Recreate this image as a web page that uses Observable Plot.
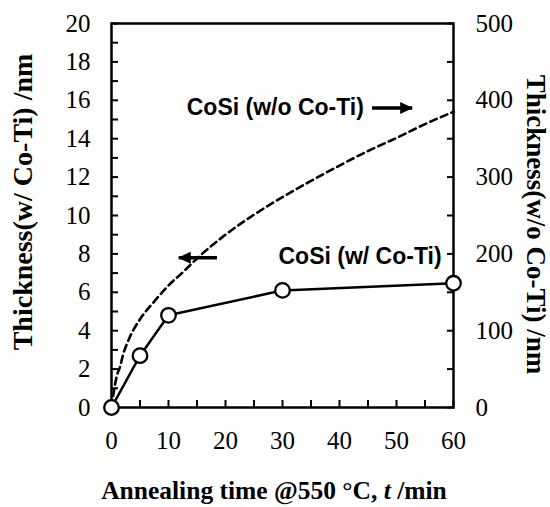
<!DOCTYPE html>
<html>
<head>
<meta charset="utf-8">
<script src="https://cdn.jsdelivr.net/npm/d3@7"></script>
<script src="https://cdn.jsdelivr.net/npm/@observablehq/plot@0.6"></script>
<style>
  html, body { margin: 0; padding: 0; background: #fff; }
  svg { display: block; }
</style>
</head>
<body>
<div id="chart"></div>
<script>
// ---- data ----
// CoSi (w/ Co-Ti): measured points, left axis (nm)
const timesWith = [0, 5, 10, 30, 60];
const thickWith = [0, 2.7, 4.8, 6.1, 6.47];

// CoSi (w/o Co-Ti): dashed curve, right axis (nm)
const timesWithout = [0, 0.5, 1, 1.5, 2, 3, 4, 5, 7.5, 10, 12.5, 15, 20, 25, 30, 35, 40, 45, 50, 55, 60];
const thickWithout = [0, 25, 43, 53, 68, 88, 103, 115, 138, 159, 176, 194, 225, 251, 274, 295, 315, 334, 351, 369, 385];

// axis ticks
const xTicks = [0, 10, 20, 30, 40, 50, 60];
const xMinorTicks = [0, 5, 10, 15, 20, 25, 30, 35, 40, 45, 50, 55, 60];
const yLeftTicks = [0, 2, 4, 6, 8, 10, 12, 14, 16, 18, 20];
const yLeftMinorTicks = [0, 1, 2, 3, 4, 5, 6, 7, 8, 9, 10, 11, 12, 13, 14, 15, 16, 17, 18, 19, 20];
const yRightTicks = [0, 100, 200, 300, 400, 500];
const yRightMinorTicks = [0, 50, 100, 150, 200, 250, 300, 350, 400, 450, 500];

const labelWith = "CoSi (w/ Co-Ti)";
const labelWithout = "CoSi (w/o Co-Ti)";

// ---- build tables ----
const ratio = d3.max(yRightTicks) / d3.max(yLeftTicks); // right nm per left nm
const withData = timesWith.map((t, i) => ({t, v: thickWith[i]}));
const withoutData = timesWithout.map((t, i) => ({t, v: thickWithout[i] / ratio}));

const serif = "Liberation Serif";
const sansBold = {fontFamily: "Liberation Sans", fontWeight: "bold", fontSize: 23, fill: "#000"};
const tickText = {fontFamily: serif, fontSize: 25, fill: "#000", label: null};

const plot = Plot.plot({
  width: 550,
  height: 507,
  marginTop: 23,
  marginBottom: 100,
  marginLeft: 111,
  marginRight: 97,
  style: {fontFamily: serif, fontSize: "25px", color: "#000", background: "#fff", overflow: "visible"},
  x: {domain: [d3.min(xTicks), d3.max(xTicks)]},
  y: {domain: [d3.min(yLeftTicks), d3.max(yLeftTicks)]},
  marks: [
    // inward tick marks
    Plot.axisX({ticks: xMinorTicks, tickSize: 7, dy: -7, strokeWidth: 2, tickFormat: () => "", label: null}),
    Plot.axisY({anchor: "left", ticks: yLeftMinorTicks, tickSize: 7, dx: 7, strokeWidth: 2, tickFormat: () => "", label: null}),
    Plot.axisY({anchor: "right", ticks: yRightMinorTicks.map(v => v / ratio), tickSize: 7, dx: -7, strokeWidth: 2, tickFormat: () => "", label: null}),
    // tick labels
    Plot.axisX({ticks: xTicks, tickSize: 0, tickPadding: 24, ...tickText}),
    Plot.axisY({anchor: "left", ticks: yLeftTicks, tickSize: 0, tickPadding: 21, ...tickText}),
    Plot.axisY({anchor: "right", ticks: yRightTicks.map(v => v / ratio), tickSize: 0, tickPadding: 22,
      tickFormat: d => String(Math.round(d * ratio)), ...tickText}),
    Plot.frame({stroke: "#000", strokeWidth: 2.5}),
    // dashed curve (w/o Co-Ti)
    Plot.line(withoutData, {x: "t", y: "v", curve: "monotone-x", stroke: "#000", strokeWidth: 2.6, strokeDasharray: "7,4.5"}),
    // solid line with circles (w/ Co-Ti)
    Plot.line(withData, {x: "t", y: "v", stroke: "#000", strokeWidth: 2.5}),
    Plot.dot(withData, {x: "t", y: "v", r: 7.3, fill: "#fff", stroke: "#000", strokeWidth: 2.3}),
    // annotations
    Plot.text([labelWithout], {x: 13.2, y: 15.62, text: d => d, textAnchor: "start", ...sansBold}),
    Plot.text([labelWith], {x: 29.3, y: 7.87, text: d => d, textAnchor: "start", ...sansBold}),
    Plot.link([{x1: 45.7, x2: 52.75, y: 15.6}, {x1: 18.5, x2: 11.8, y: 7.8}],
      {x1: "x1", x2: "x2", y1: "y", y2: "y", stroke: "#000", strokeWidth: 3.3})
  ]
});

document.getElementById("chart").appendChild(plot);

const svg = d3.select(plot);

// arrow heads (filled triangles)
const defs = svg.append("defs");
defs.append("marker")
  .attr("id", "ahead")
  .attr("markerUnits", "userSpaceOnUse")
  .attr("viewBox", "0 0 13 13")
  .attr("markerWidth", 13)
  .attr("markerHeight", 13)
  .attr("refX", 12)
  .attr("refY", 6.5)
  .attr("orient", "auto")
  .append("path")
  .attr("d", "M0,0.5 L13,6.5 L0,12.5 Z")
  .attr("fill", "#000");
svg.selectAll('g[aria-label="link"] path').attr("marker-end", "url(#ahead)");

// axis titles
const xt = svg.append("text")
  .attr("x", 274).attr("y", 499)
  .attr("text-anchor", "middle")
  .attr("font-family", serif).attr("font-weight", "bold").attr("font-size", 25.5).attr("fill", "#000");
xt.append("tspan").text("Annealing time @550 °C, ");
xt.append("tspan").attr("font-style", "italic").text("t");
xt.append("tspan").text(" /min");

svg.append("text")
  .attr("transform", "translate(32,202) rotate(-90)")
  .attr("text-anchor", "middle")
  .attr("font-family", serif).attr("font-weight", "bold").attr("font-size", 28).attr("fill", "#000")
  .text("Thickness(w/ Co-Ti) /nm");

svg.append("text")
  .attr("transform", "translate(527,224.5) rotate(90)")
  .attr("text-anchor", "middle")
  .attr("font-family", serif).attr("font-weight", "bold").attr("font-size", 27).attr("fill", "#000")
  .text("Thickness(w/o Co-Ti) /nm");
</script>
</body>
</html>
